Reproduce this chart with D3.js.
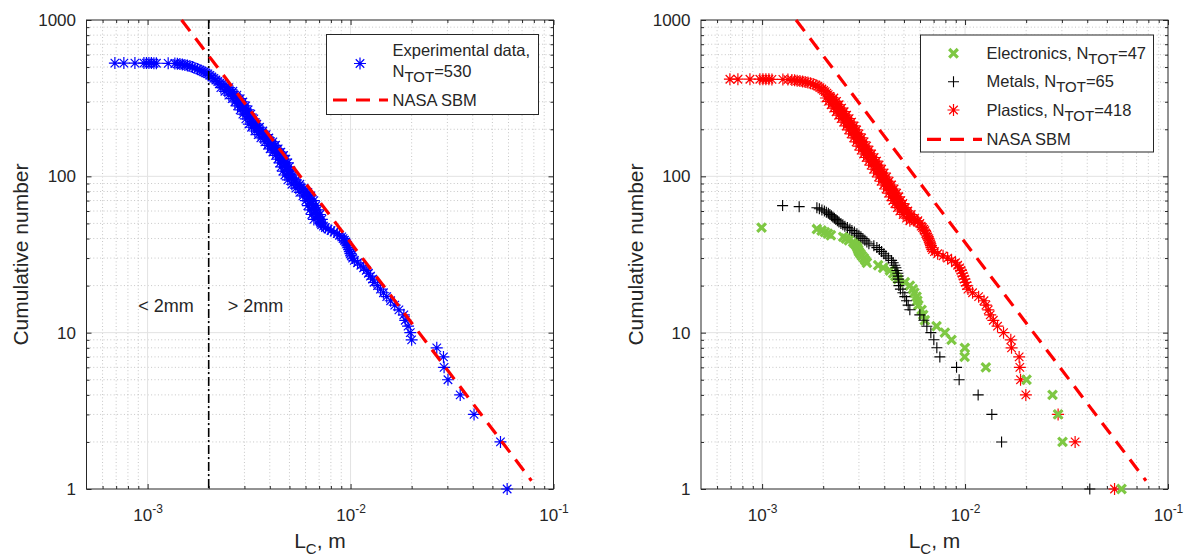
<!DOCTYPE html>
<html>
<head>
<meta charset="utf-8">
<script src="https://cdn.jsdelivr.net/npm/d3@7/dist/d3.min.js"></script>
<style>
  html, body { margin: 0; padding: 0; background: #ffffff; }
  svg text { font-family: "Liberation Sans", Arial, Helvetica, sans-serif; fill: #262626; }
</style>
</head>
<body>
<svg id="chart" width="1184" height="556"></svg>
<script>
// Cumulative fragment-size distributions on log-log axes:
// number of fragments with characteristic length >= L_C.

// Axis ticks shared by both panels
const xTickExponents = [-3, -2, -1];
const yTickValues = [1, 10, 100, 1000];

// NASA standard breakup model, end points [L_C (m), N]
const sbmLine = [[0.00147, 1000], [0.0779, 1.13]];

// Size threshold marked in the left panel (m)
const thresholdL = 0.002;

// All fragments: [L_C (m), cumulative number]
const experimental = [
  [0.000690,530],[0.000764,530],[0.000866,530],[0.000959,530],[0.000987,530],[0.001015,530],
  [0.001044,530],[0.001074,529],[0.001105,529],[0.001263,528],
  [0.0013625,527],[0.0014020,525],[0.0014424,523],[0.0014839,519],[0.0015265,515],[0.0015706,512],
  [0.0016157,508],[0.0016622,500],[0.0017100,493],[0.0017592,486],[0.0018098,479],[0.0018513,472],
  [0.0018938,465],[0.0019372,458],[0.0019816,452],[0.0020271,442],[0.0020736,432],[0.0021211,423],
  [0.0021698,413],[0.0022196,404],[0.0022705,395],[0.0023226,387],[0.0023758,378],[0.0024303,369],
  [0.0024861,359],[0.0025431,350],[0.0026014,341],[0.0026611,331],[0.0027222,322],[0.0027626,314],
  [0.0028068,307],[0.0028485,299],[0.0028908,290],[0.0029371,282],[0.0029807,274],[0.0030251,266],
  [0.0030735,258],[0.0031192,250],[0.0031727,241],[0.0032271,233],[0.0032825,224],[0.0033389,216],
  [0.0033885,211],[0.0034428,206],[0.0034940,201],[0.0035741,195],[0.0036561,189],[0.0037105,185],
  [0.0037699,180],[0.0038259,176],[0.0039136,171],[0.0040034,166],[0.0040629,162],[0.0041280,158],
  [0.0041893,154],[0.0042515,150],[0.0043197,147],[0.0043838,143],[0.0044490,140],[0.0045203,136],
  [0.0045874,133],[0.0046397,129],[0.0046926,125],[0.0047461,122],[0.0047839,118],[0.0048166,115],
  [0.0048550,111],[0.0049103,108],[0.0049663,105],[0.0050230,102],[0.0051091,98],[0.0051968,95],
  [0.0053161,92],[0.0054381,89],[0.0055629,87],[0.0056905,84],[0.0058211,82],[0.0059547,79],
  [0.0060569,77],[0.0061609,75],[0.0062665,72],[0.0063741,70],[0.0064468,67],[0.0065204,65],
  [0.0065947,63],[0.0066699,61],[0.0067460,59],[0.0068230,57],[0.0069009,55],[0.0069796,53],
  [0.0070592,52],[0.0070996,51],[0.0071397,50],[0.0072049,49],[0.0073536,48],[0.0075222,47],
  [0.0077475,46],[0.0080158,45],[0.0082935,44],[0.0085999,43],[0.0088173,42],[0.0090505,41],
  [0.0091845,40],[0.0093317,39],[0.0094813,38],[0.0095786,37],[0.0096879,36],[0.0097873,35],
  [0.0098653,34],[0.0099209,33],[0.0099887,32],[0.010091,31],[0.010241,30],[0.010440,29],
  [0.010826,28],[0.011239,27],[0.011602,26],[0.011949,25],[0.012251,24],[0.012546,23],
  [0.012848,22],[0.013054,21],[0.013583,20],[0.014037,19],[0.014523,18],[0.015076,17],
  [0.015758,16],[0.016508,15],[0.017313,14],[0.018303,13],[0.0186,12],[0.0192,11],
  [0.0197,10],[0.0200,9],[0.0266,8],[0.0287,7],[0.0289,6],[0.0302,5],
  [0.0347,4],[0.0406,3],[0.0548,2],[0.0591,1],
  // scattered points along both edges of the dense part of the band
  [0.0022964,369],[0.0025144,369],[0.0024030,350],[0.0026311,350],[0.0025145,331],[0.0027532,331],
  [0.0026104,314],[0.0028582,314],[0.0026915,299],[0.0029471,299],[0.0027753,282],[0.0030387,282],
  [0.0028584,266],[0.0031298,266],[0.0029473,250],[0.0032271,250],[0.0030493,233],[0.0033388,233],
  [0.0031549,216],[0.0034544,216],[0.0032531,206],[0.0035619,206],[0.0033772,195],[0.0036978,195],
  [0.0035061,185],[0.0038389,185],[0.0036151,176],[0.0039583,176],[0.0037828,166],[0.0041419,166],
  [0.0039006,158],[0.0042708,158],[0.0040172,150],[0.0043986,150],[0.0041423,143],[0.0045355,143],
  [0.0042712,136],[0.0046767,136],[0.0043841,129],[0.0048002,129],[0.0044846,122],[0.0049103,122],
  [0.0045512,115],[0.0049833,115],[0.0046397,108],[0.0050802,108],[0.0047462,102],[0.0051968,102],
  [0.0049105,95],[0.0053766,95],[0.0051385,89],[0.0056263,89],[0.0053770,84],[0.0058874,84],
  [0.0056266,79],[0.0061607,79],[0.0058214,75],[0.0063741,75],[0.0060229,70],[0.0065946,70],
  [0.0061611,65],[0.0067460,65],[0.0063024,61],[0.0069007,61],[0.0064471,57],[0.0070591,57],
  [0.0065950,53],[0.0072211,53]
];

// Electronics fragments
const electronics = [
  [0.000994,47],[0.001862,46],[0.001964,45],[0.002039,44],[0.002110,43],[0.002183,42],
  [0.002509,41],[0.002587,40],[0.002677,39],[0.002810,38],[0.002865,37],[0.002920,36],
  [0.002948,35],[0.002974,34],[0.002998,33],[0.003049,32],[0.003102,31],[0.003173,30],
  [0.003227,29],[0.003283,28],[0.003732,27],[0.003950,26],[0.004261,25],[0.004424,24],
  [0.004536,23],[0.004667,22],[0.005051,21],[0.005346,20],[0.005531,19],[0.005626,18],
  [0.005768,17],[0.005821,16],[0.005888,15],[0.006107,14],[0.006219,13],[0.006339,12],
  [0.007237,11],[0.007954,10],[0.008580,9],[0.009977,8],[0.009950,7],[0.012661,6],
  [0.020091,5],[0.026977,4],[0.028742,3],[0.030218,2],[0.059020,1]
];

// Metal fragments
const metals = [
  [0.001262,65],[0.001523,64],[0.001862,63],[0.001915,62],[0.001971,61],[0.002027,60],
  [0.002073,59],[0.002121,58],[0.002158,57],[0.002195,56],[0.002232,55],[0.002271,54],
  [0.002309,53],[0.002349,52],[0.002390,51],[0.002445,50],[0.002500,49],[0.002558,48],
  [0.002632,47],[0.002707,46],[0.002770,45],[0.002850,44],[0.002931,43],[0.002998,42],
  [0.003067,41],[0.003138,40],[0.003209,39],[0.003283,38],[0.003359,37],[0.003553,36],
  [0.003677,35],[0.003783,34],[0.003879,33],[0.003981,32],[0.004073,31],[0.004190,30],
  [0.004345,29],[0.004424,28],[0.004510,27],[0.004562,26],[0.004614,25],[0.004667,24],
  [0.004683,23],[0.004694,22],[0.004705,21],[0.004721,20],[0.004802,19],[0.004940,18],
  [0.005051,17],[0.005150,16],[0.005245,15],[0.005346,14],[0.005988,13],[0.006266,12],
  [0.006484,11],[0.006784,10],[0.007017,9],[0.007261,8],[0.007513,7],[0.009081,6],
  [0.009352,5],[0.011601,4],[0.013551,3],[0.015135,2],[0.041180,1]
];

// Plastic fragments
const plastics = [
  [0.000694,418],[0.000760,418],[0.000871,418],[0.000975,418],[0.001009,418],[0.001044,418],
  [0.001080,418],[0.001118,417],[0.001266,417],[0.001340,416],
  [0.0014020,413],[0.0014457,411],[0.0014890,409],[0.0015357,407],[0.0015835,404],[0.0016305,401],
  [0.0016812,398],[0.0017334,394],[0.0017853,389],[0.0018409,384],[0.0018831,377],[0.0019263,369],
  [0.0019705,362],[0.0020089,355],[0.0020457,348],[0.0020855,341],[0.0021164,333],[0.0021503,325],
  [0.0021823,317],[0.0022147,309],[0.0022502,302],[0.0022836,295],[0.0023161,287],[0.0023493,280],
  [0.0023826,273],[0.0024167,266],[0.0024512,259],[0.0024862,252],[0.0025217,246],[0.0025577,240],
  [0.0025942,234],[0.0026313,228],[0.0026687,222],[0.0027068,216],[0.0027455,210],[0.0027847,204],
  [0.0028245,198],[0.0028647,192],[0.0029056,187],[0.0029471,181],[0.0029892,176],[0.0030318,171],
  [0.0030751,166],[0.0031190,161],[0.0031637,156],[0.0032088,152],[0.0032546,147],[0.0033012,143],
  [0.0033483,139],[0.0033960,135],[0.0034445,132],[0.0034940,128],[0.0035438,125],[0.0035944,122],
  [0.0036458,118],[0.0036979,115],[0.0037507,111],[0.0038042,108],[0.0038586,105],[0.0039136,102],
  [0.0039695,99],[0.0040262,96],[0.0040837,93],[0.0041420,91],[0.0042011,88],[0.0042611,86],
  [0.0043221,83],[0.0043838,81],[0.0044463,78],[0.0045099,76],[0.0045613,74],[0.0046134,72],
  [0.0046660,70],[0.0047192,68],[0.0047731,67],[0.0048413,65],[0.0049103,63],[0.0049804,62],
  [0.0050514,60],[0.0051498,58],[0.0052441,57],[0.0053464,55],[0.0054505,54],[0.0055502,53],
  [0.0056585,52],[0.0058211,51],[0.0059887,50],[0.0060775,48],[0.0061749,47],[0.0062665,46],
  [0.0063380,45],[0.0064104,43],[0.0064834,42],[0.0065426,41],[0.0065947,40],[0.0066547,39],
  [0.0067078,38],[0.0067460,37],[0.0067921,36],[0.0068307,35],[0.0069088,34],[0.0070672,33],
  [0.0073285,32],[0.0077914,31],[0.0082092,30],[0.0085806,29],[0.0089686,28],[0.0091951,27],
  [0.0094060,26],[0.0095460,25],[0.0096767,24],[0.0097984,23],[0.0099321,22],[0.010057,21],
  [0.010194,20],[0.010335,19],[0.010888,18],[0.011668,17],[0.012395,16],[0.012674,15],
  [0.013010,14],[0.013308,13],[0.013784,12],[0.014457,11],[0.015474,10],[0.016807,9],
  [0.016943,8],[0.018474,7],[0.018621,6],[0.018767,5],[0.019930,4],[0.028742,3],
  [0.034862,2],[0.054526,1],
  // scattered points along both edges of the dense part of the band
  [0.0020621,317],[0.0022578,317],[0.0021262,302],[0.0023281,302],[0.0021885,287],[0.0023962,287],
  [0.0022513,273],[0.0024650,273],[0.0023161,259],[0.0025360,259],[0.0023828,246],[0.0026090,246],
  [0.0024513,234],[0.0026840,234],[0.0025217,222],[0.0027610,222],[0.0025942,210],[0.0028405,210],
  [0.0026689,198],[0.0029222,198],[0.0027455,187],[0.0030061,187],[0.0028245,176],[0.0030926,176],
  [0.0029057,166],[0.0031815,166],[0.0029894,156],[0.0032732,156],[0.0030753,147],[0.0033672,147],
  [0.0031638,139],[0.0034642,139],[0.0032547,132],[0.0035637,132],[0.0033485,125],[0.0036664,125],
  [0.0034449,118],[0.0037719,118],[0.0035440,111],[0.0038805,111],[0.0036460,105],[0.0039921,105],
  [0.0037508,99],[0.0041068,99],[0.0038587,93],[0.0042250,93],[0.0039696,88],[0.0043465,88],
  [0.0040840,83],[0.0044717,83],[0.0042013,78],[0.0046001,78],[0.0043100,74],[0.0047191,74],
  [0.0044089,70],[0.0048274,70],[0.0045101,67],[0.0049383,67],[0.0046397,63],[0.0050802,63],
  [0.0047731,60],[0.0052262,60],[0.0049552,57],[0.0054255,57],[0.0051502,54],[0.0056391,54],
  [0.0053467,52],[0.0058543,52]
];

// ---------------------------------------------------------------------------
const svg = d3.select("#chart");
const yTop = 20, yBottom = 489;
const textColor = "#262626";

const styles = {
  blueStar:  { type: "asterisk", color: "#0000ff", r: 6, width: 1.2 },
  redStar:   { type: "asterisk", color: "#ff0000", r: 6, width: 1.2 },
  blackPlus: { type: "plus",     color: "#000000", r: 5.5, width: 1.1 },
  greenX:    { type: "times",    color: "#7ec843", r: 4.3, width: 3.2 }
};
const sbmStyle = { color: "#ff0000", width: 3.2, dash: "14,9" };

function markerPath(type, r) {
  const p = d3.path();
  if (type === "asterisk") {
    const d = r * Math.SQRT1_2;
    p.moveTo(-r, 0); p.lineTo(r, 0);
    p.moveTo(0, -r); p.lineTo(0, r);
    p.moveTo(-d, -d); p.lineTo(d, d);
    p.moveTo(-d, d); p.lineTo(d, -d);
  } else if (type === "plus") {
    p.moveTo(-r, 0); p.lineTo(r, 0);
    p.moveTo(0, -r); p.lineTo(0, r);
  } else {
    p.moveTo(-r, -r); p.lineTo(r, r);
    p.moveTo(-r, r); p.lineTo(r, -r);
  }
  return p.toString();
}

function isDecade(v) {
  const l = Math.log10(v);
  return Math.abs(l - Math.round(l)) < 1e-9;
}

// Text with a subscript part: parts = [[text, shift, size], ...]
function richText(sel, parts, baseSize) {
  let prev = 0;
  parts.forEach(([t, shift, size]) => {
    sel.append("tspan")
      .attr("dy", shift - prev)
      .attr("font-size", size || baseSize)
      .text(t);
    prev = shift;
  });
}

function drawPanel(p) {
  const x = d3.scaleLog().domain([5e-4, 0.1]).range([p.x0, p.x1]);
  const y = d3.scaleLog().domain([1, 1000]).range([yBottom, yTop]);
  const g = svg.append("g");

  const xAll = x.ticks().filter(v => v > 5e-4 * 1.0001 && v < 0.1 * 0.9999);
  const yAll = y.ticks().filter(v => v > 1.0001 && v < 999.9);
  const xMinor = xAll.filter(v => !isDecade(v));
  const xMajor = xTickExponents.map(e => Math.pow(10, e));
  const yMinor = yAll.filter(v => !isDecade(v));

  // grid
  const grid = g.append("g");
  grid.selectAll(".gxm").data(xMinor).join("line")
    .attr("x1", d => x(d)).attr("x2", d => x(d)).attr("y1", yTop).attr("y2", yBottom)
    .attr("stroke", "#c6c6c6").attr("stroke-width", 1).attr("stroke-dasharray", "1,2.4");
  grid.selectAll(".gym").data(yMinor).join("line")
    .attr("y1", d => y(d)).attr("y2", d => y(d)).attr("x1", p.x0).attr("x2", p.x1)
    .attr("stroke", "#c6c6c6").attr("stroke-width", 1).attr("stroke-dasharray", "1,2.4");
  grid.selectAll(".gxM").data(xAll.filter(isDecade)).join("line")
    .attr("x1", d => x(d)).attr("x2", d => x(d)).attr("y1", yTop).attr("y2", yBottom)
    .attr("stroke", "#e2e2e2").attr("stroke-width", 1);
  grid.selectAll(".gyM").data(yAll.filter(isDecade)).join("line")
    .attr("y1", d => y(d)).attr("y2", d => y(d)).attr("x1", p.x0).attr("x2", p.x1)
    .attr("stroke", "#e2e2e2").attr("stroke-width", 1);

  // axes: inward ticks on all four sides
  const axes = g.append("g").attr("color", textColor);
  const mk = (gen, tf, vals, len) =>
    gen.tickValues(vals).tickSizeInner(-len).tickSizeOuter(0).tickFormat(tf);
  const none = () => "";

  axes.append("g").attr("transform", `translate(0,${yBottom})`)
    .call(mk(d3.axisBottom(x), none, xMinor, 3));
  axes.append("g").attr("transform", `translate(0,${yTop})`)
    .call(mk(d3.axisTop(x), none, xMinor, 3));
  axes.append("g").attr("transform", `translate(${p.x0},0)`)
    .call(mk(d3.axisLeft(y), none, yMinor, 3));
  axes.append("g").attr("transform", `translate(${p.x1},0)`)
    .call(mk(d3.axisRight(y), none, yMinor, 3));
  axes.append("g").attr("transform", `translate(0,${yTop})`)
    .call(mk(d3.axisTop(x), none, xMajor, 5));
  axes.append("g").attr("transform", `translate(${p.x1},0)`)
    .call(mk(d3.axisRight(y), none, yTickValues, 5));

  const bottomMajor = axes.append("g").attr("transform", `translate(0,${yBottom})`)
    .call(mk(d3.axisBottom(x), none, xMajor, 5));
  bottomMajor.selectAll(".tick text")
    .attr("y", 32).attr("dy", null).attr("font-size", 17)
    .each(function (d, i) {
      const t = d3.select(this);
      t.append("tspan").text("10");
      t.append("tspan").attr("dy", -8).attr("font-size", 12).text(String(xTickExponents[i]));
    });

  const leftMajor = axes.append("g").attr("transform", `translate(${p.x0},0)`)
    .call(d3.axisLeft(y).tickValues(yTickValues).tickSizeInner(-5).tickSizeOuter(0)
      .tickPadding(10.5).tickFormat(d3.format("d")));
  leftMajor.selectAll(".tick text").attr("font-size", 17);

  axes.selectAll(".domain").remove();
  axes.selectAll(".tick line").attr("stroke-width", 1);
  axes.selectAll("g").attr("font-family", null);

  g.append("rect")
    .attr("x", p.x0).attr("y", yTop).attr("width", p.x1 - p.x0).attr("height", yBottom - yTop)
    .attr("fill", "none").attr("stroke", textColor).attr("stroke-width", 1);

  // data
  p.series.forEach(s => {
    const st = styles[s.style];
    g.append("g").selectAll("path").data(s.data).join("path")
      .attr("transform", d => `translate(${x(d[0])},${y(d[1])})`)
      .attr("d", markerPath(st.type, st.r))
      .attr("fill", "none").attr("stroke", st.color).attr("stroke-width", st.width);
  });

  if (p.threshold) {
    g.append("line")
      .attr("x1", x(thresholdL)).attr("x2", x(thresholdL))
      .attr("y1", yTop).attr("y2", yBottom)
      .attr("stroke", "#000000").attr("stroke-width", 1.6)
      .attr("stroke-dasharray", "9,3,2,3");
    g.append("text").attr("x", x(thresholdL) - 15).attr("y", 312)
      .attr("text-anchor", "end").attr("font-size", 18).text("< 2mm");
    g.append("text").attr("x", x(thresholdL) + 19).attr("y", 312)
      .attr("text-anchor", "start").attr("font-size", 18).text("> 2mm");
  }

  // NASA SBM
  g.append("path")
    .attr("d", d3.line().x(d => x(d[0])).y(d => y(d[1]))(sbmLine))
    .attr("fill", "none").attr("stroke", sbmStyle.color)
    .attr("stroke-width", sbmStyle.width).attr("stroke-dasharray", sbmStyle.dash);

  // axis titles
  const cx = (p.x0 + p.x1) / 2;
  const xt = g.append("text").attr("x", cx).attr("y", 548)
    .attr("text-anchor", "middle").attr("font-size", 21);
  richText(xt, [["L", 0], ["C", 6, 15], [", m", 0]], 21);
  g.append("text")
    .attr("transform", `translate(${p.x0 - 58.5},${(yTop + yBottom) / 2}) rotate(-90)`)
    .attr("text-anchor", "middle").attr("font-size", 21)
    .text("Cumulative number");

  // legend
  const L = p.legend;
  const lg = g.append("g");
  lg.append("rect").attr("x", L.x).attr("y", L.y).attr("width", L.w).attr("height", L.h)
    .attr("fill", "#ffffff").attr("stroke", textColor).attr("stroke-width", 1);
  L.rows.forEach(r => {
    if (r.style === "sbm") {
      lg.append("line").attr("x1", L.x + 6.5).attr("x2", L.x + 61.5)
        .attr("y1", r.y).attr("y2", r.y)
        .attr("stroke", sbmStyle.color).attr("stroke-width", sbmStyle.width)
        .attr("stroke-dasharray", sbmStyle.dash);
    } else {
      const st = styles[r.style];
      lg.append("path").attr("transform", `translate(${L.mx},${r.y})`)
        .attr("d", markerPath(st.type, st.r))
        .attr("fill", "none").attr("stroke", st.color).attr("stroke-width", st.width);
    }
    r.lines.forEach((parts, i) => {
      const t = lg.append("text").attr("x", L.tx).attr("y", r.ty + i * 21)
        .attr("font-size", 16.5);
      richText(t, parts, 16.5);
    });
  });
}

const ntot = n => [["N", 0], ["TOT", 5, 15], ["=" + n, 0]];

drawPanel({
  x0: 86.5, x1: 553.5, threshold: true,
  series: [{ data: experimental, style: "blueStar" }],
  legend: {
    x: 326.5, y: 34.5, w: 212, h: 80, mx: 360, tx: 392.5,
    rows: [
      { style: "blueStar", y: 63.5, ty: 55.7,
        lines: [[["Experimental data,", 0]], ntot(530)] },
      { style: "sbm", y: 100, ty: 106, lines: [[["NASA SBM", 0]]] }
    ]
  }
});

drawPanel({
  x0: 701, x1: 1168, threshold: false,
  series: [
    { data: plastics, style: "redStar" },
    { data: electronics, style: "greenX" },
    { data: metals, style: "blackPlus" }
  ],
  legend: {
    x: 920.5, y: 35, w: 233, h: 117, mx: 953.5, tx: 986.5,
    rows: [
      { style: "greenX", y: 53.3, ty: 58.5, lines: [[["Electronics, ", 0]].concat(ntot(47))] },
      { style: "blackPlus", y: 81.7, ty: 87, lines: [[["Metals, ", 0]].concat(ntot(65))] },
      { style: "redStar", y: 110, ty: 115.5, lines: [[["Plastics, ", 0]].concat(ntot(418))] },
      { style: "sbm", y: 139.3, ty: 145, lines: [[["NASA SBM", 0]]] }
    ]
  }
});
</script>
</body>
</html>
